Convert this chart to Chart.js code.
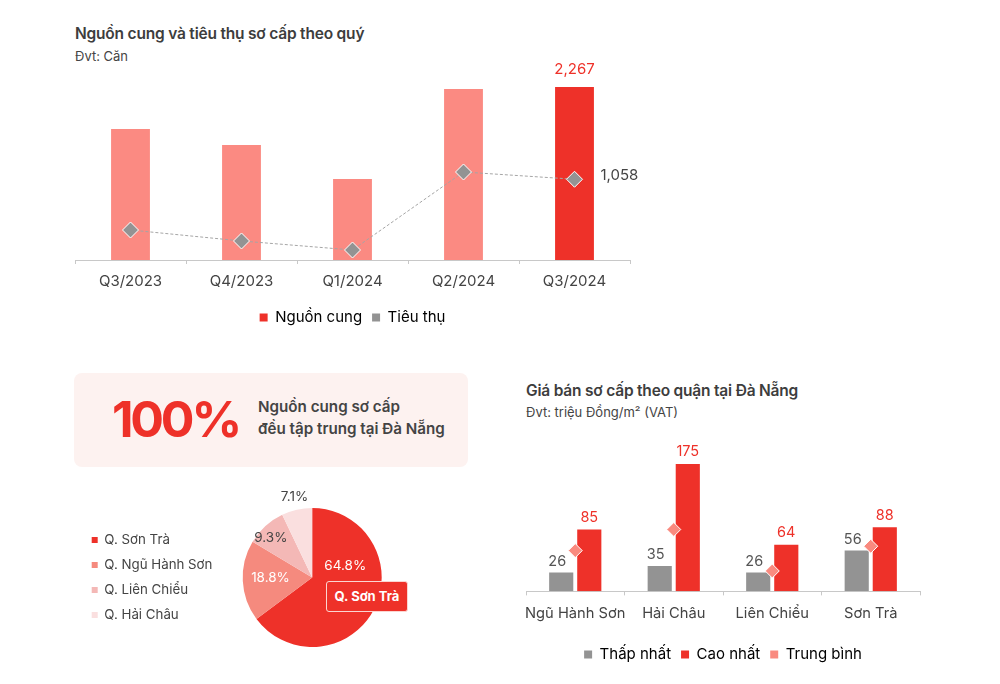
<!DOCTYPE html>
<html lang="vi">
<head>
    <meta charset="UTF-8">
    <title>Nguồn cung và giá bán sơ cấp Đà Nẵng</title>
    <style>
        body { margin: 0; background: #fff; font-family: Inter, sans-serif; color: #444; }
        #page { position: relative; width: 1000px; height: 684px; overflow: hidden; }
        #page > * { position: absolute; }
        canvas { display: block; }
        h2 { margin: 0; font-size: 15.5px; font-weight: 600; letter-spacing: -0.2px; color: #3d3d3d; white-space: nowrap; }
        .unit { font-size: 13px; color: #444; white-space: nowrap; }
        #panel { left: 74px; top: 373px; width: 394px; height: 94px; background: #fdf2f0; border-radius: 8px; }
        #big { left: 112px; top: 386px; font-size: 50px; line-height: 66px; font-weight: 700; letter-spacing: -3.2px; color: #ee3129; }
        #note { left: 258px; top: 396px; font-size: 15.2px; line-height: 22px; font-weight: 600; color: #444; white-space: nowrap; }
        #callout { left: 326px; top: 581px; width: 80px; height: 29px; line-height: 29px; text-align: center; background: #ee3129;
                   border: 1px solid #fbd5d1; border-radius: 3px; color: #fff; font-size: 13px; font-weight: 700; white-space: nowrap; }
    </style>
</head>
<body>
<div id="page">
    <h2 style="left:75px;top:24px">Nguồn cung và tiêu thụ sơ cấp theo quý</h2>
    <div class="unit" style="left:75px;top:48px">Đvt: Căn</div>
    <canvas id="supplyChart" width="587" height="280" style="left:60px;top:60px"></canvas>

    <div id="panel"></div>
    <div id="big">100%</div>
    <div id="note">Nguồn cung sơ cấp<br>đều tập trung tại Đà Nẵng</div>
    <canvas id="shareChart" width="345" height="195" style="left:75px;top:480px"></canvas>
    <div id="callout">Q. Sơn Trà</div>

    <h2 style="left:526px;top:381px">Giá bán sơ cấp theo quận tại Đà Nẵng</h2>
    <div class="unit" style="left:526px;top:404px">Đvt: triệu Đồng/m² (VAT)</div>
    <canvas id="priceChart" width="404" height="235" style="left:521px;top:440px"></canvas>
</div>
<script src="https://cdn.jsdelivr.net/npm/chart.js"></script>
<script>
    const quarters = ['Q3/2023', 'Q4/2023', 'Q1/2024', 'Q2/2024', 'Q3/2024'];
    const supply = [1717, 1507, 1061, 2241, 2267];
    const sold = [393, 249, 131, 1153, 1058];

    const districts = ['Q. Sơn Trà', 'Q. Ngũ Hành Sơn', 'Q. Liên Chiểu', 'Q. Hải Châu'];
    const shares = [64.8, 18.8, 9.3, 7.1];

    const priceAreas = ['Ngũ Hành Sơn', 'Hải Châu', 'Liên Chiểu', 'Sơn Trà'];
    const priceLow = [26, 35, 26, 56];
    const priceHigh = [85, 175, 64, 88];
    const priceAvg = [56, 85, 28, 62];

    const RED = '#ee3129';
    const SALMON = '#fb8a82';
    const GREY = '#939393';
    const TEXT = '#444444';
    const AXIS = '#c8c8c8';

    Chart.defaults.font.family = 'Inter, sans-serif';
    Chart.defaults.color = TEXT;
    Chart.defaults.animation = false;
    Chart.defaults.responsive = false;
    Chart.defaults.plugins.tooltip.enabled = false;

    function squareLegend(colors, size) {
        return {
            position: 'bottom',
            labels: {
                boxWidth: 8,
                boxHeight: 8,
                color: TEXT,
                font: { size: size },
                generateLabels: chart => chart.data.datasets.map((ds, i) => ({
                    text: ds.label,
                    fillStyle: colors[i],
                    strokeStyle: colors[i],
                    lineWidth: 0,
                    datasetIndex: i
                }))
            }
        };
    }

    // extra is spare room between the tick labels and the legend;
    // side padding is cleared so a wide first label can't push the axis in
    function xAxis(fontSize, pad, extra) {
        return {
            border: { color: AXIS },
            grid: { drawOnChartArea: false, color: AXIS, tickLength: 4 },
            ticks: { color: TEXT, font: { size: fontSize }, padding: pad, autoSkip: false, maxRotation: 0 },
            afterFit: scale => {
                scale.height += extra;
                scale.paddingLeft = 0;
                scale.paddingRight = 0;
            }
        };
    }

    function drawText(ctx, text, x, y, color, size, align) {
        ctx.save();
        ctx.fillStyle = color;
        ctx.font = size + 'px Inter, sans-serif';
        ctx.textAlign = align || 'center';
        ctx.textBaseline = 'middle';
        ctx.fillText(text, x, y);
        ctx.restore();
    }

    // only the latest quarter is labelled
    const supplyLabels = {
        id: 'supplyLabels',
        afterDatasetsDraw(chart) {
            const last = quarters.length - 1;
            const bar = chart.getDatasetMeta(0).data[last];
            const point = chart.getDatasetMeta(1).data[last];
            drawText(chart.ctx, supply[last].toLocaleString('en-US'), bar.x, bar.y - 18, RED, 15);
            drawText(chart.ctx, sold[last].toLocaleString('en-US'), point.x + 26, point.y - 4, TEXT, 15, 'left');
        }
    };

    new Chart(document.getElementById('supplyChart'), {
        type: 'bar',
        data: {
            labels: quarters,
            datasets: [
                {
                    label: 'Nguồn cung',
                    data: supply,
                    order: 1,
                    backgroundColor: quarters.map((q, i) => i === quarters.length - 1 ? RED : SALMON),
                    categoryPercentage: 1,
                    barPercentage: 0.35
                },
                {
                    type: 'line',
                    label: 'Tiêu thụ',
                    data: sold,
                    order: 0,
                    borderColor: '#a5a5a5',
                    borderWidth: 1,
                    borderDash: [3, 2],
                    pointStyle: 'rectRot',
                    pointRadius: 8,
                    pointBackgroundColor: GREY,
                    pointBorderColor: '#fff',
                    pointBorderWidth: 1
                }
            ]
        },
        options: {
            layout: { autoPadding: false, padding: { left: 15, right: 17, top: 27, bottom: 5 } },
            scales: {
                x: xAxis(15, 8, 2),
                y: { display: false, min: 0, max: 2267 }
            },
            plugins: { legend: squareLegend([RED, GREY], 15) }
        },
        plugins: [supplyLabels]
    });

    // nudges from each slice's centre point
    const shareNudge = [[2, -27], [-7, -1], [-18, -14], [-10, -47]];
    const shareLabelColors = ['#ffffff', '#ffffff', TEXT, TEXT];

    const shareLabels = {
        id: 'shareLabels',
        afterDatasetsDraw(chart) {
            chart.getDatasetMeta(0).data.forEach((arc, i) => {
                const c = arc.getCenterPoint();
                drawText(chart.ctx, shares[i] + '%', c.x + shareNudge[i][0], c.y + shareNudge[i][1], shareLabelColors[i], 13.5);
            });
        }
    };

    new Chart(document.getElementById('shareChart'), {
        type: 'pie',
        data: {
            labels: districts,
            datasets: [{
                data: shares,
                backgroundColor: [RED, '#f58a7e', '#f4b8b6', '#fadfdf'],
                borderWidth: 0
            }]
        },
        options: {
            layout: { padding: { left: 5, right: 18, top: 28, bottom: 28 } },
            plugins: {
                legend: {
                    position: 'left',
                    labels: {
                        boxWidth: 6,
                        boxHeight: 6,
                        padding: 11.7,
                        color: TEXT,
                        font: { size: 13.3 }
                    }
                }
            }
        },
        plugins: [shareLabels]
    });

    const priceLabels = {
        id: 'priceLabels',
        afterDatasetsDraw(chart) {
            chart.getDatasetMeta(0).data.forEach((bar, i) => {
                drawText(chart.ctx, priceLow[i], bar.x - 4, bar.y - 11, '#555555', 14.5);
            });
            chart.getDatasetMeta(1).data.forEach((bar, i) => {
                drawText(chart.ctx, priceHigh[i], bar.x, bar.y - 12, RED, 14.5);
            });
        }
    };

    new Chart(document.getElementById('priceChart'), {
        type: 'bar',
        data: {
            labels: priceAreas,
            datasets: [
                {
                    label: 'Thấp nhất',
                    data: priceLow,
                    order: 1,
                    backgroundColor: GREY,
                    categoryPercentage: 0.57,
                    barPercentage: 0.86
                },
                {
                    label: 'Cao nhất',
                    data: priceHigh,
                    order: 1,
                    backgroundColor: RED,
                    categoryPercentage: 0.57,
                    barPercentage: 0.86
                },
                {
                    type: 'line',
                    label: 'Trung bình',
                    data: priceAvg,
                    order: 0,
                    showLine: false,
                    pointStyle: 'rectRot',
                    pointRadius: 7,
                    pointBackgroundColor: '#f98a7f',
                    pointBorderColor: '#fff',
                    pointBorderWidth: 1
                }
            ]
        },
        options: {
            layout: { autoPadding: false, padding: { left: 5, right: 5, top: 24, bottom: 3 } },
            scales: {
                x: xAxis(14.7, 9, 6),
                y: { display: false, min: 0, max: 175 }
            },
            plugins: { legend: squareLegend([GREY, RED, '#f98a7f'], 15) }
        },
        plugins: [priceLabels]
    });
</script>
</body>
</html>
